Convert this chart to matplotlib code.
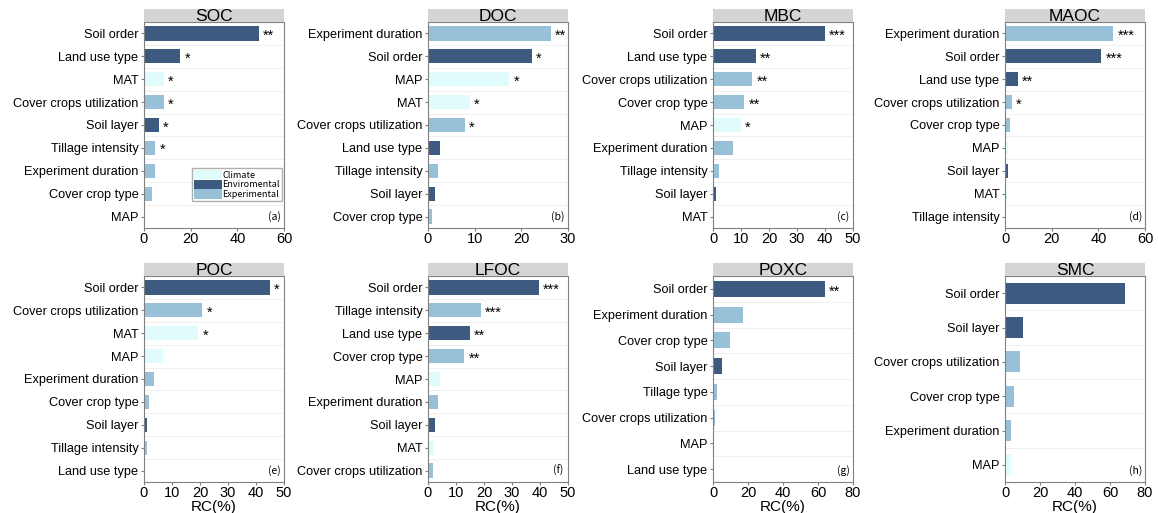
import matplotlib.pyplot as plt
from matplotlib.patches import Patch

plt.rcParams['font.family'] = ['Liberation Sans', 'DejaVu Sans']

# factor groups and their colours
group_colors = {'C': '#e0fbfc', 'N': '#3d5a80', 'E': '#98c1d9'}
group_names = {'C': 'Climate', 'N': 'Enviromental', 'E': 'Experimental'}

soc_factors = ['Soil order', 'Land use type', 'MAT', 'Cover crops utilization', 'Soil layer',
               'Tillage intensity', 'Experiment duration', 'Cover crop type', 'MAP']
soc_rc = [49.2, 15.6, 8.6, 8.6, 6.4, 4.8, 4.5, 3.3, 0.5]
soc_group = ['N', 'N', 'C', 'E', 'N', 'E', 'E', 'E', 'C']
soc_sig = ['**', '*', '*', '*', '*', '*', '', '', '']

doc_factors = ['Experiment duration', 'Soil order', 'MAP', 'MAT', 'Cover crops utilization',
               'Land use type', 'Tillage intensity', 'Soil layer', 'Cover crop type']
doc_rc = [26.3, 22.3, 17.4, 9.0, 7.9, 2.6, 2.2, 1.5, 0.9]
doc_group = ['E', 'N', 'C', 'C', 'E', 'N', 'E', 'N', 'E']
doc_sig = ['**', '*', '*', '*', '*', '', '', '', '']

mbc_factors = ['Soil order', 'Land use type', 'Cover crops utilization', 'Cover crop type', 'MAP',
               'Experiment duration', 'Tillage intensity', 'Soil layer', 'MAT']
mbc_rc = [39.9, 15.2, 14.0, 11.2, 10.0, 7.0, 2.3, 1.1, 0.3]
mbc_group = ['N', 'N', 'E', 'E', 'C', 'E', 'E', 'N', 'C']
mbc_sig = ['***', '**', '**', '**', '*', '', '', '', '']

maoc_factors = ['Experiment duration', 'Soil order', 'Land use type', 'Cover crops utilization',
                'Cover crop type', 'MAP', 'Soil layer', 'MAT', 'Tillage intensity']
maoc_rc = [46.4, 41.3, 5.4, 2.9, 2.1, 1.3, 1.1, 0.8, 0.3]
maoc_group = ['E', 'N', 'N', 'E', 'E', 'C', 'N', 'C', 'E']
maoc_sig = ['***', '***', '**', '*', '', '', '', '', '']

poc_factors = ['Soil order', 'Cover crops utilization', 'MAT', 'MAP', 'Experiment duration',
               'Cover crop type', 'Soil layer', 'Tillage intensity', 'Land use type']
poc_rc = [44.9, 20.8, 19.4, 6.9, 3.7, 1.9, 1.2, 1.2, 0.5]
poc_group = ['N', 'E', 'C', 'C', 'E', 'E', 'N', 'E', 'N']
poc_sig = ['*', '*', '*', '', '', '', '', '', '']

lfoc_factors = ['Soil order', 'Tillage intensity', 'Land use type', 'Cover crop type', 'MAP',
                'Experiment duration', 'Soil layer', 'MAT', 'Cover crops utilization']
lfoc_rc = [39.5, 18.9, 15.0, 12.9, 4.4, 3.6, 2.4, 2.3, 1.9]
lfoc_group = ['N', 'E', 'N', 'E', 'C', 'E', 'N', 'C', 'E']
lfoc_sig = ['***', '***', '**', '**', '', '', '', '', '']

poxc_factors = ['Soil order', 'Experiment duration', 'Cover crop type', 'Soil layer',
                'Tillage type', 'Cover crops utilization', 'MAP', 'Land use type']
poxc_rc = [64.0, 17.3, 9.5, 5.3, 2.5, 1.3, 0.8, 0.2]
poxc_group = ['N', 'E', 'E', 'N', 'E', 'E', 'C', 'N']
poxc_sig = ['**', '', '', '', '', '', '', '']

smc_factors = ['Soil order', 'Soil layer', 'Cover crops utilization', 'Cover crop type',
               'Experiment duration', 'MAP']
smc_rc = [68.5, 10.5, 8.8, 5.4, 3.6, 3.6]
smc_group = ['N', 'N', 'E', 'E', 'E', 'C']
smc_sig = ['', '', '', '', '', '']

panels = [
    ('SOC', soc_factors, soc_rc, soc_group, soc_sig, 60, [0, 20, 40, 60], '(a)'),
    ('DOC', doc_factors, doc_rc, doc_group, doc_sig, 30, [0, 10, 20, 30], '(b)'),
    ('MBC', mbc_factors, mbc_rc, mbc_group, mbc_sig, 50, [0, 10, 20, 30, 40, 50], '(c)'),
    ('MAOC', maoc_factors, maoc_rc, maoc_group, maoc_sig, 60, [0, 20, 40, 60], '(d)'),
    ('POC', poc_factors, poc_rc, poc_group, poc_sig, 50, [0, 10, 20, 30, 40, 50], '(e)'),
    ('LFOC', lfoc_factors, lfoc_rc, lfoc_group, lfoc_sig, 50, [0, 10, 20, 30, 40, 50], '(f)'),
    ('POXC', poxc_factors, poxc_rc, poxc_group, poxc_sig, 80, [0, 20, 40, 60, 80], '(g)'),
    ('SMC', smc_factors, smc_rc, smc_group, smc_sig, 80, [0, 20, 40, 60, 80], '(h)'),
]

W, H = 1158, 513
fig = plt.figure(figsize=(W / 100, H / 100), dpi=100)

lefts = [144, 428, 713, 1005]
tops = [22, 276]
ax_w, ax_h, strip_h = 140, 206, 13

for i, (name, factors, rc, grp, sig, xmax, ticks, tag) in enumerate(panels):
    row, col = divmod(i, 4)
    left = lefts[col] / W
    bottom = (H - tops[row] - ax_h) / H
    ax = fig.add_axes([left, bottom, ax_w / W, ax_h / H])

    n = len(factors)
    ypos = list(range(n))[::-1]
    ax.barh(ypos, rc, height=0.62, color=[group_colors[g] for g in grp], zorder=2)
    for y, v, s in zip(ypos, rc, sig):
        if s:
            ax.text(v + xmax * 0.03, y - 0.1, s, fontsize=10.5, va='center', ha='left')

    for k in range(n - 1):
        ax.axhline(k + 0.5, color='#f0f0f0', lw=0.7, zorder=1)

    ax.set_xlim(0, xmax)
    ax.set_ylim(-0.5, n - 0.5)
    ax.set_xticks(ticks)
    ax.set_yticks(ypos)
    ax.set_yticklabels(factors, fontsize=9.2)
    ax.tick_params(axis='x', labelsize=10.5, length=2, color='#808080', pad=1)
    ax.tick_params(axis='y', length=2, color='#808080', pad=2)
    for sp in ax.spines.values():
        sp.set_color('#808080')
        sp.set_linewidth(0.8)
    ax.text(0.93, 0.055, tag, transform=ax.transAxes, fontsize=7.5, ha='center', va='center',
            family=['Noto Sans CJK JP', 'DejaVu Sans'])
    if row == 1:
        ax.set_xlabel('RC(%)', fontsize=11, labelpad=0)

    # grey header strip with the variable name
    strip = fig.add_axes([left, (H - tops[row]) / H, ax_w / W, strip_h / H])
    strip.set_facecolor('#d4d4d4')
    strip.set_xticks([])
    strip.set_yticks([])
    for sp in strip.spines.values():
        sp.set_visible(False)
    strip.text(0.5, 0.45, name, fontsize=12.5, ha='center', va='center', transform=strip.transAxes)

    if i == 0:
        handles = [Patch(facecolor=group_colors[g], label=group_names[g]) for g in ['C', 'N', 'E']]
        ax.legend(handles=handles, loc='lower right', bbox_to_anchor=(1.0, 0.12),
                  prop={'family': ['Noto Sans CJK JP', 'DejaVu Sans'], 'size': 6.5},
                  handlelength=3.0, handleheight=1.25, handletextpad=0.1, labelspacing=0.0,
                  borderpad=0.25, borderaxespad=0.2, fancybox=False, edgecolor='#b0b0b0',
                  framealpha=1)

fig.savefig('out.png', dpi=100)
